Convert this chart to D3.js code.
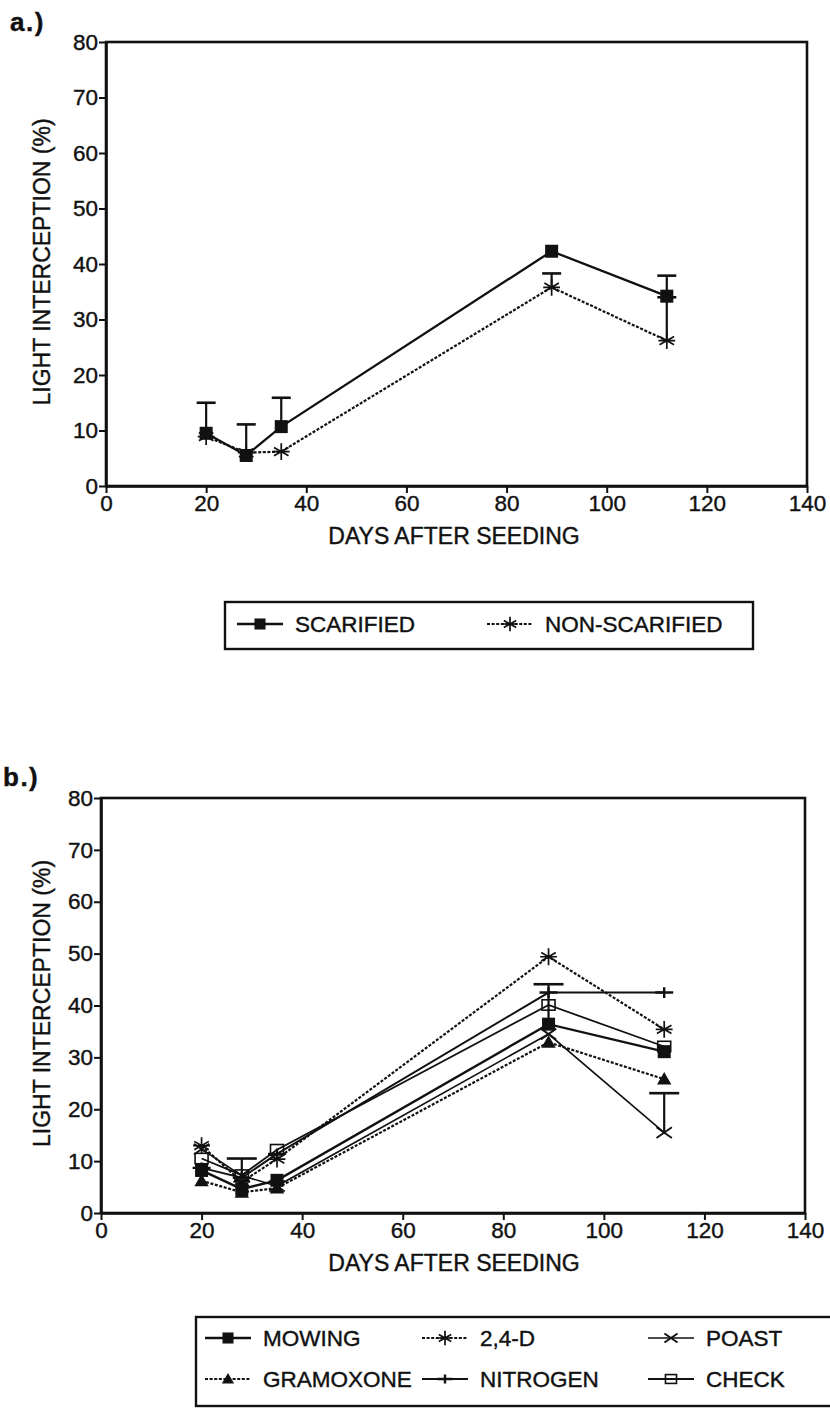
<!DOCTYPE html>
<html>
<head>
<meta charset="utf-8">
<script src="https://cdn.jsdelivr.net/npm/d3@7/dist/d3.min.js"></script>
<style>
  html, body { margin: 0; padding: 0; background: #fff; }
  svg { display: block; }
  text { font-family: "Liberation Sans", Arial, Helvetica, sans-serif; fill: #111; stroke: #111; stroke-width: 0.4px; }
</style>
</head>
<body>
<svg id="fig" width="830" height="1410"></svg>
<script>
// ---- data -------------------------------------------------------------
const days = [20, 28, 35, 89, 112];
const xTicks = [0, 20, 40, 60, 80, 100, 120, 140];
const yTicks = [0, 10, 20, 30, 40, 50, 60, 70, 80];

// panel a: seedbed preparation
const scarified        = [9.5, 5.5, 10.7, 42.3, 34.2];
const scarifiedSE      = [5.5, 5.6, 5.2, 0, 3.7];
const nonScarified     = [8.9, 6.0, 6.2, 35.8, 26.2];
const nonScarifiedSE   = [0, 0, 0, 2.5, 7.8];

// panel b: weed control treatments
const mowing     = [8.2, 4.6, 6.3, 36.4, 31.1];
const mowingSE   = [0, 0, 0, 7.7, 0];
const d24        = [13.0, 6.0, 10.4, 49.4, 35.4];
const d24SE      = [0, 0, 0, 0, 0];
const poast      = [12.3, 7.2, 5.2, 34.5, 15.5];
const poastSE    = [0, 0, 0, 0, 7.6];
const gramoxone  = [6.2, 4.0, 4.8, 32.9, 25.8];
const gramoxoneSE= [0, 0, 0, 0, 0];
const nitrogen   = [8.7, 6.8, 11.4, 42.5, 42.5];
const nitrogenSE = [0, 0, 0, 0, 0];
const check      = [10.5, 7.3, 12.2, 40.1, 32.1];
const checkSE    = [0, 3.2, 0, 0, 0];

// ---- helpers ----------------------------------------------------------
const svg = d3.select("#fig");
const ink = "#111";

const markers = {
  fsquare: (g, s) => g.append("rect").attr("x", -s/2).attr("y", -s/2).attr("width", s).attr("height", s)
                      .attr("fill", ink),
  osquare: (g, s) => g.append("rect").attr("x", -s/2).attr("y", -s*0.4).attr("width", s).attr("height", s*0.8)
                      .attr("fill", "none").attr("stroke", ink).attr("stroke-width", 1.6),
  triangle: (g, s) => g.append("path").attr("d", `M0,${-s*0.6}L${s*0.6},${s*0.45}L${-s*0.6},${s*0.45}Z`)
                      .attr("fill", ink),
  star: (g, s) => {
    const r = s * 0.6;
    const p = [];
    [90, 30, -30].forEach(a => {
      const t = a * Math.PI / 180;
      p.push(`M${-r*Math.cos(t)},${r*Math.sin(t)}L${r*Math.cos(t)},${-r*Math.sin(t)}`);
    });
    p.push(`M${-r},0L${r},0`);
    g.append("path").attr("d", p.join("")).attr("stroke", ink).attr("stroke-width", 1.7).attr("fill", "none");
  },
  cross: (g, s) => {
    const r = s * 0.55;
    g.append("path").attr("d", `M${-r},${-r*0.7}L${r},${r*0.7}M${-r},${r*0.7}L${r},${-r*0.7}`)
      .attr("stroke", ink).attr("stroke-width", 1.9).attr("fill", "none");
  },
  plus: (g, s) => {
    const r = s * 0.45;
    g.append("path").attr("d", `M0,${-r}L0,${r}M${-s*0.75},0L${s*0.75},0`)
      .attr("stroke", ink).attr("stroke-width", 2.4).attr("fill", "none");
  }
};

function panel(opts) {
  const { x0, x1, y0, y1, series, capW, label, labelPos } = opts;
  const x = d3.scaleLinear().domain([0, 140]).range([x0, x1]);
  const y = d3.scaleLinear().domain([0, 80]).range([y0, y1]);
  const g = svg.append("g");

  // frame
  g.append("rect").attr("x", x(0)).attr("y", y(80)).attr("width", x(140) - x(0)).attr("height", y(0) - y(80))
    .attr("fill", "none").attr("stroke", ink).attr("stroke-width", 2.6);

  const yAxis = g.append("g").attr("transform", `translate(${x(0)},0)`)
    .call(d3.axisLeft(y).tickValues(yTicks).tickSize(7).tickPadding(1).tickSizeOuter(0));
  const xAxis = g.append("g").attr("transform", `translate(0,${y(0)})`)
    .call(d3.axisBottom(x).tickValues(xTicks).tickSize(7).tickPadding(2).tickSizeOuter(0));
  [yAxis, xAxis].forEach(a => {
    a.select(".domain").attr("stroke", ink).attr("stroke-width", 2.6);
    a.selectAll(".tick line").attr("stroke", ink).attr("stroke-width", 2);
    a.selectAll(".tick text").attr("font-size", 22.5).attr("fill", ink)
      .attr("font-family", "'Liberation Sans', Arial, sans-serif");
  });
  xAxis.selectAll(".tick text").attr("dy", "0.72em");

  // axis titles
  g.append("text").attr("x", 454).attr("y", y(0) + 58)
    .attr("text-anchor", "middle").attr("font-size", 23).text("DAYS AFTER SEEDING");
  g.append("text").attr("transform", `translate(50,${(y(0) + y(80)) / 2 - 2}) rotate(-90)`)
    .attr("text-anchor", "middle").attr("font-size", 23).text("LIGHT INTERCEPTION (%)");

  // panel label
  g.append("text").attr("x", labelPos[0]).attr("y", labelPos[1]).attr("font-size", 26)
    .attr("font-weight", "bold").attr("letter-spacing", 1.5).text(label);

  // error bars (upward)
  series.forEach(s => {
    days.forEach((d, i) => {
      if (!s.se[i]) return;
      const cx = x(d), top = y(s.values[i] + s.se[i]), bot = y(s.values[i]);
      g.append("line").attr("x1", cx).attr("x2", cx).attr("y1", top).attr("y2", bot)
        .attr("stroke", ink).attr("stroke-width", 2.2);
      g.append("line").attr("x1", cx - capW/2).attr("x2", cx + capW/2).attr("y1", top).attr("y2", top)
        .attr("stroke", ink).attr("stroke-width", 2.6);
    });
  });

  // lines
  const line = d3.line().x((d, i) => x(days[i])).y(d => y(d));
  series.forEach(s => {
    g.append("path").datum(s.values).attr("d", line)
      .attr("fill", "none").attr("stroke", ink).attr("stroke-width", s.width)
      .attr("stroke-dasharray", s.dash || null);
  });

  // markers
  series.forEach(s => {
    s.values.forEach((v, i) => {
      const m = g.append("g").attr("transform", `translate(${x(days[i])},${y(v)})`);
      markers[s.marker](m, s.size);
    });
  });
}

function legend(opts) {
  const { box, items } = opts;
  svg.append("rect").attr("x", box[0]).attr("y", box[1]).attr("width", box[2]).attr("height", box[3])
    .attr("fill", "none").attr("stroke", ink).attr("stroke-width", 2.4);
  items.forEach(it => {
    const g = svg.append("g");
    g.append("line").attr("x1", it.x).attr("x2", it.x + 46).attr("y1", it.y).attr("y2", it.y)
      .attr("stroke", ink).attr("stroke-width", it.s.width).attr("stroke-dasharray", it.s.dash || null);
    const m = g.append("g").attr("transform", `translate(${it.x + 23},${it.y})`);
    markers[it.s.marker](m, it.s.size * 0.85);
    g.append("text").attr("x", it.x + 58).attr("y", it.y).attr("dy", "0.36em")
      .attr("font-size", 22.5).text(it.s.name);
  });
}

// ---- panel a ----------------------------------------------------------
const seriesA = [
  { name: "SCARIFIED", values: scarified, se: scarifiedSE, marker: "fsquare", size: 13, width: 2.3 },
  { name: "NON-SCARIFIED", values: nonScarified, se: nonScarifiedSE, marker: "star", size: 14, width: 2.2, dash: "3,1.6" }
];
panel({ x0: 106, x1: 807, y0: 486, y1: 42, series: seriesA, capW: 19,
        label: "a.)", labelPos: [10, 31] });
legend({ box: [225, 602, 528, 47], items: [
  { s: seriesA[0], x: 237, y: 624 },
  { s: seriesA[1], x: 487, y: 624 }
]});

// ---- panel b ----------------------------------------------------------
const seriesB = [
  { name: "MOWING", values: mowing, se: mowingSE, marker: "fsquare", size: 13, width: 2.4 },
  { name: "2,4-D", values: d24, se: d24SE, marker: "star", size: 14, width: 2.2, dash: "3,1.6" },
  { name: "POAST", values: poast, se: poastSE, marker: "cross", size: 14, width: 1.6 },
  { name: "GRAMOXONE", values: gramoxone, se: gramoxoneSE, marker: "triangle", size: 12, width: 2.2, dash: "3,1.6" },
  { name: "NITROGEN", values: nitrogen, se: nitrogenSE, marker: "plus", size: 12, width: 2.0 },
  { name: "CHECK", values: check, se: checkSE, marker: "osquare", size: 13, width: 1.8 }
];
panel({ x0: 101, x1: 805, y0: 1213, y1: 798, series: seriesB, capW: 30,
        label: "b.)", labelPos: [3, 786] });
legend({ box: [196, 1317, 640, 89], items: [
  { s: seriesB[0], x: 205, y: 1338 },
  { s: seriesB[1], x: 422, y: 1338 },
  { s: seriesB[2], x: 648, y: 1338 },
  { s: seriesB[3], x: 205, y: 1379 },
  { s: seriesB[4], x: 422, y: 1379 },
  { s: seriesB[5], x: 648, y: 1379 }
]});
</script>
</body>
</html>
